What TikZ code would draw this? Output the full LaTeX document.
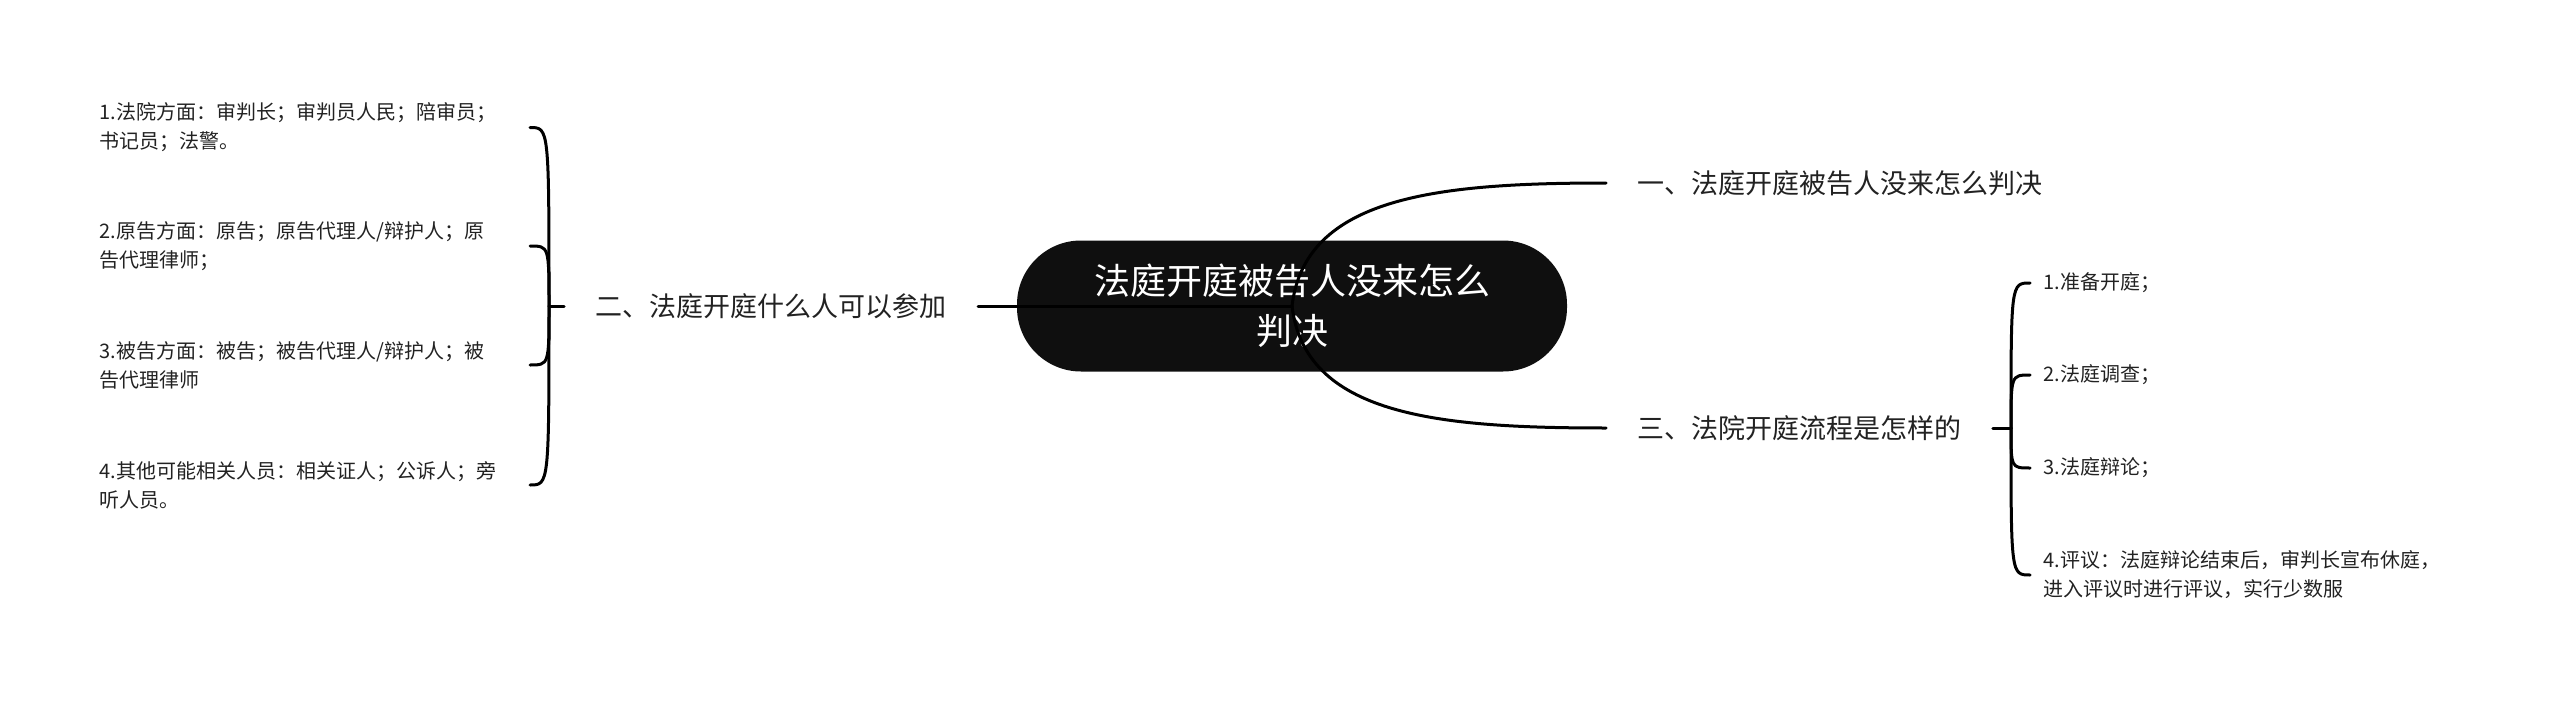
\documentclass[tikz,border=0pt]{standalone}
\usepackage{fontspec}
\setmainfont{Noto Sans CJK SC}
\usepackage{xcolor}
\usetikzlibrary{calc}
\definecolor{txt}{HTML}{222222}
\definecolor{rootfill}{HTML}{0F0F0F}
\tikzset{
	topic/.style={inner xsep=15.5pt, inner ysep=0pt, text=txt, font=\fontsize{13.5}{18}\selectfont},
	leaf/.style={inner xsep=6.5pt, inner ysep=0pt, align=left, text=txt, font=\fontsize{10}{14.5}\selectfont},
	link/.style={line width=1.5pt, line cap=round}
}

\begin{document}
\begin{tikzpicture}[x=0.5pt, y=-0.5pt]
	\useasboundingbox (0,0) rectangle (2560,701);
	\node[fill=rootfill, rounded corners=32pt, minimum width=275pt, minimum height=65.5pt, align=center, text=white, font=\fontsize{18}{25}\selectfont] (root) at (1292,306) {法庭开庭被告人没来怎么\\判决};

	\node[topic, anchor=west] (b1) at (1606,183) {一、法庭开庭被告人没来怎么判决};
	\node[topic, anchor=east] (b2) at (978,306) {二、法庭开庭什么人可以参加};
	\node[topic, anchor=west] (b3) at (1606,428) {三、法院开庭流程是怎样的};

	\node[leaf, anchor=east, text width=208.5pt] (l1) at (530,127.5) {1.法院方面：审判长；审判员人民；陪审员；\\书记员；法警。};
	\node[leaf, anchor=east, text width=208.5pt] (l2) at (530,246) {2.原告方面：原告；原告代理人/辩护人；原\\告代理律师；};
	\node[leaf, anchor=east, text width=208.5pt] (l3) at (530,365) {3.被告方面：被告；被告代理人/辩护人；被\\告代理律师};
	\node[leaf, anchor=east, text width=208.5pt] (l4) at (530,485) {4.其他可能相关人员：相关证人；公诉人；旁\\听人员。};

	\node[leaf, anchor=west] (r1) at (2030,283) {1.准备开庭；};
	\node[leaf, anchor=west] (r2) at (2030,375) {2.法庭调查；};
	\node[leaf, anchor=west] (r3) at (2030,468) {3.法庭辩论；};
	\node[leaf, anchor=west] (r4) at (2030,575) {4.评议：法庭辩论结束后，审判长宣布休庭，\\进入评议时进行评议，实行少数服};

	\coordinate (j2) at (549,306);
	\coordinate (j3) at (2011,428);

	\draw[link] (root.center) .. controls +(13,-109) and +(-170,0) .. (b1.west);
	\draw[link] (root.center) .. controls +(13,109) and +(-170,0) .. (b3.west);
	\draw[link] (root.center) -- (b2.east);

	\draw[link] (b2.west) -- (j2);
	\foreach \n in {l1,l2,l3,l4}
		\draw[link] (j2) .. controls (j2 |- \n) .. (\n.east);

	\draw[link] (b3.east) -- (j3);
	\foreach \n in {r1,r2,r3,r4}
		\draw[link] (j3) .. controls (j3 |- \n) .. (\n.west);
\end{tikzpicture}
\end{document}
